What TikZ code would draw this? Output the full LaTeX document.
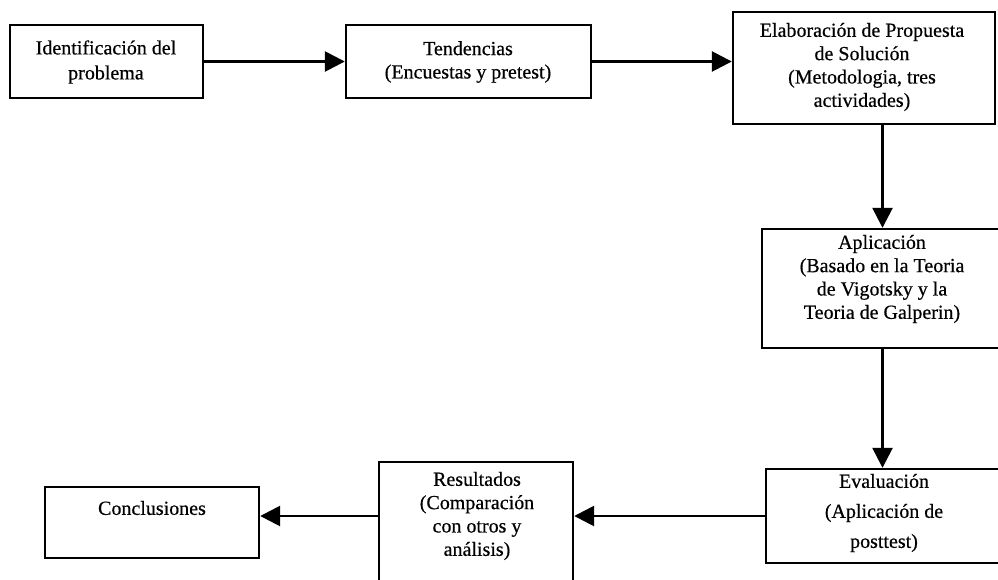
\documentclass[tikz,border=0pt]{standalone}
\usepackage{fontspec}
\setmainfont{Liberation Serif}[FakeBold=0.5]
\usetikzlibrary{arrows.meta,fit}
\begin{document}
\begin{tikzpicture}[x=0.75pt,y=-0.75pt,
  stagebox/.style={draw, line width=1.8pt, inner sep=0pt},
  boxtext/.style={align=center, inner sep=0pt, font=\fontsize{15}{17.5}\selectfont},
  flow/.style={line width=2pt, -{Triangle[length=15pt,width=15pt]}}
]
\useasboundingbox (0,0) rectangle (998,579);

% frames of the seven stages
\node[stagebox, fit={(10,25) (203,98)}]    (b1) {};
\node[stagebox, fit={(346,25) (591,98)}]   (b2) {};
\node[stagebox, fit={(733,12) (995,124)}]  (b3) {};
\node[stagebox, fit={(762,229) (1003,348)}] (b4) {};
\node[stagebox, fit={(766,469) (1008,563)}] (b5) {};
\node[stagebox, fit={(379,462) (573,584)}] (b6) {};
\node[stagebox, fit={(45,487) (259,558)}]  (b7) {};

% texts of the stages
\node[boxtext, font=\fontsize{15}{18.75}\selectfont] (t1) at (106,62)
  {Identificación del\\problema};
\node[boxtext] (t2) at (468,62) {Tendencias\\(Encuestas y pretest)};
\node[boxtext] (t3) at (862,67)
  {Elaboración de Propuesta\\de Solución\\(Metodologia, tres\\actividades)};
\node[boxtext] (t4) at (882,279)
  {Aplicación\\(Basado en la Teoria\\de Vigotsky y la\\Teoria de Galperin)};
\node[boxtext, font=\fontsize{15}{22.5}\selectfont] (t5) at (884,513)
  {Evaluación\\(Aplicación de\\posttest)};
\node[boxtext] (t6) at (477,516)
  {Resultados\\(Comparación\\con otros y\\análisis)};
\node[boxtext] (t7) at (152,508) {Conclusiones};

% connectors
\draw[flow] (b1.east) -- (b2.west);
\draw[flow] (b2.east) -- (b2.east -| b3.west);
\draw[flow] (b3.south -| b4.north) -- (b4.north);
\draw[flow] (b4.south) -- (b4.south |- b5.north);
\draw[flow] (b5.west) -- (b5.west -| b6.east);
\draw[flow] (b6.west |- b5.west) -- (b5.west -| b7.east);
\end{tikzpicture}
\end{document}
